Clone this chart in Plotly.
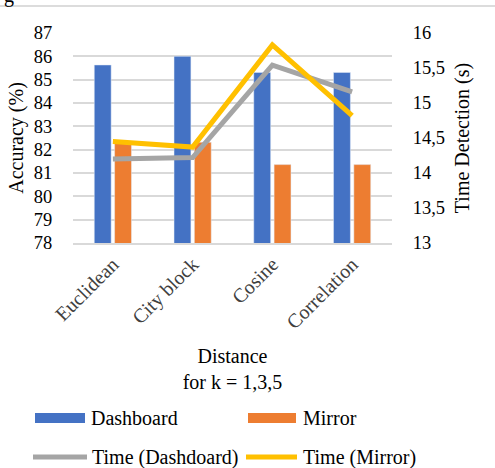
import plotly.graph_objects as go

categories = ["Euclidean", "City block", "Cosine", "Correlation"]
acc_dashboard = [85.63, 86.0, 85.31, 85.31]
acc_mirror = [82.29, 82.32, 81.36, 81.36]
time_dashboard = [14.2, 14.22, 15.54, 15.16]
time_mirror = [14.45, 14.37, 15.83, 14.82]

BLUE = "#4472C4"
ORANGE = "#ED7D31"
GRAY = "#A5A5A5"
YELLOW = "#FFC000"
FONT = "Liberation Serif"

fig = go.Figure()
fig.add_trace(go.Bar(x=categories, y=acc_dashboard, name="Dashboard", marker_color=BLUE, showlegend=False))
fig.add_trace(go.Bar(x=categories, y=acc_mirror, name="Mirror", marker_color=ORANGE, showlegend=False))
fig.add_trace(go.Scatter(x=categories, y=time_dashboard, name="Time (Dashdoard)", mode="lines",
                         line=dict(color=GRAY, width=5), yaxis="y2", showlegend=False))
fig.add_trace(go.Scatter(x=categories, y=time_mirror, name="Time (Mirror)", mode="lines",
                         line=dict(color=YELLOW, width=5), yaxis="y2", showlegend=False))

W, H = 495, 468
L, R, T, B = 73, 103, 33, 225
PW, PH = W - L - R, H - T - B


def fx(x):
    return (x - L) / PW


def fy(y):
    return (H - B - y) / PH


shapes = []
annotations = []
legend_items = [
    ("Dashboard", BLUE, "rect", 35, 85, 89, 418),
    ("Mirror", ORANGE, "rect", 248, 296, 301, 418),
    ("Time (Dashdoard)", GRAY, "line", 33, 87, 90, 457),
    ("Time (Mirror)", YELLOW, "line", 246, 297, 301, 457),
]
for label, color, kind, x0, x1, tx, yc in legend_items:
    if kind == "rect":
        shapes.append(dict(type="rect", xref="paper", yref="paper",
                           x0=fx(x0), x1=fx(x1), y0=fy(yc + 5), y1=fy(yc - 5),
                           fillcolor=color, line=dict(width=0)))
    else:
        shapes.append(dict(type="line", xref="paper", yref="paper",
                           x0=fx(x0), x1=fx(x1), y0=fy(yc), y1=fy(yc),
                           line=dict(color=color, width=5)))
    annotations.append(dict(text=label, xref="paper", yref="paper",
                            x=fx(tx), y=fy(yc), xanchor="left", yanchor="middle", showarrow=False,
                            font=dict(family=FONT, size=20, color="#000")))

# remnants of the page the chart was cropped from
shapes.append(dict(type="line", xref="paper", yref="paper",
                   x0=fx(0), x1=fx(W), y0=fy(6), y1=fy(6),
                   line=dict(color="#d0d0d0", width=1.5)))
annotations.append(dict(text="g", xref="paper", yref="paper", x=fx(2), y=fy(-4),
                        xanchor="left", yanchor="middle", showarrow=False,
                        font=dict(family=FONT, size=20, color="#000")))

fig.update_layout(
    width=W, height=H,
    margin=dict(l=L, r=R, t=T, b=B),
    paper_bgcolor="white", plot_bgcolor="white",
    separators=", ",
    barmode="group", bargap=0.49, bargroupgap=0.17,
    font=dict(family=FONT, size=20, color="#000"),
    xaxis=dict(tickangle=-45, showgrid=False, showline=True, linecolor="#d9d9d9", linewidth=1.5,
               ticks="", tickfont=dict(family=FONT, size=20, color="#404040"),
               title=dict(text="Distance<br>for k = 1,3,5", font=dict(family=FONT, size=20, color="#000"), standoff=17)),
    yaxis=dict(range=[78, 87], dtick=1, showgrid=True, gridcolor="#d9d9d9", gridwidth=1.5,
               zeroline=False, ticks="outside", ticklen=16, tickcolor="rgba(0,0,0,0)",
               tickfont=dict(family=FONT, size=18.5, color="#000"),
               title=dict(text="Accuracy (%)", font=dict(family=FONT, size=20, color="#000"), standoff=4)),
    yaxis2=dict(range=[13, 16], dtick=0.5, overlaying="y", side="right", showgrid=False,
                zeroline=False, ticks="outside", ticklen=16, tickcolor="rgba(0,0,0,0)",
                tickfont=dict(family=FONT, size=18.5, color="#000"),
                title=dict(text="Time Detection (s)", font=dict(family=FONT, size=20, color="#000"), standoff=10)),
    shapes=shapes,
    annotations=annotations,
    showlegend=False,
)

fig.write_html("out.html")
